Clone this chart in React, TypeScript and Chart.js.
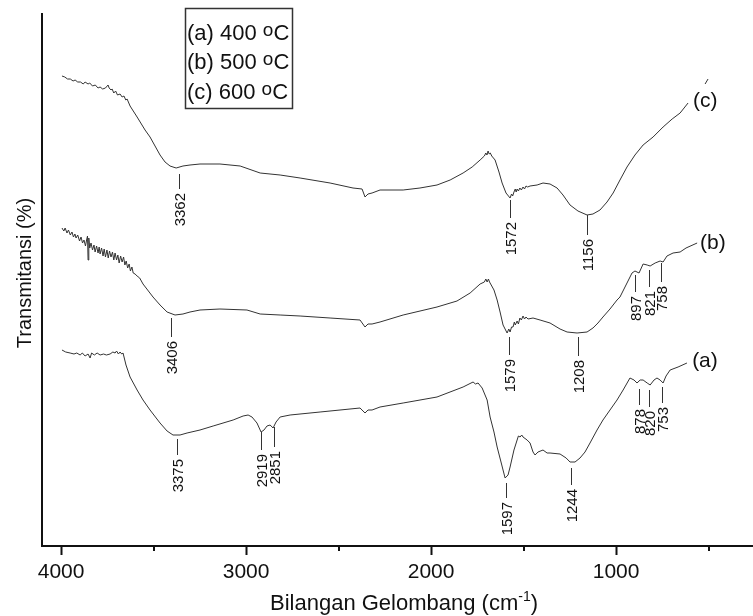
import React, { useEffect, useRef } from 'react';
import { Chart, registerables } from 'chart.js';
Chart.register(...registerables);

const FONT = 'Arial, "Liberation Sans", Helvetica, sans-serif';

// wavenumber (cm-1), transmittance (arbitrary units)
const spectrumC: [number, number][] = [
  [3995, 470], [3980, 469], [3965, 467], [3950, 467], [3935, 465], [3924, 466], [3910, 464], [3895, 464],
  [3880, 462], [3870, 464], [3854, 462], [3845, 463], [3830, 460], [3815, 461], [3800, 458], [3789, 459],
  [3775, 457], [3760, 458], [3746, 461], [3740, 458], [3730, 456], [3724, 457], [3715, 453], [3705, 455],
  [3695, 451], [3681, 452], [3670, 449], [3660, 450], [3650, 446], [3643, 447], [3627, 440], [3589, 429],
  [3546, 416], [3519, 409], [3492, 400], [3465, 391], [3438, 384], [3411, 380], [3378, 378], [3341, 380],
  [3303, 381], [3249, 382], [3141, 382], [3032, 380], [2924, 373], [2816, 371], [2708, 368], [2546, 363],
  [2422, 358], [2373, 357], [2357, 349], [2341, 352], [2319, 353], [2276, 356], [2151, 356], [2060, 358],
  [1968, 361], [1897, 366], [1827, 373], [1778, 379], [1735, 386], [1712, 390], [1704, 393], [1698, 391],
  [1692, 395], [1686, 392], [1680, 393], [1672, 390], [1654, 386], [1633, 374], [1616, 363], [1595, 353],
  [1573, 348], [1565, 352], [1559, 350], [1552, 354], [1545, 357], [1540, 354], [1535, 357], [1528, 355],
  [1520, 358], [1512, 356], [1503, 359], [1495, 357], [1487, 360], [1478, 359], [1465, 360], [1427, 361],
  [1395, 363], [1357, 362], [1319, 358], [1287, 351], [1249, 341], [1206, 335], [1157, 331], [1125, 332],
  [1087, 336], [1049, 344], [1016, 353], [979, 366], [941, 379], [898, 391], [854, 401], [800, 409],
  [746, 419], [697, 427], [654, 433], [611, 443],
];
const spectrumCTail: [number, number][] = [[519, 462], [503, 467]];

const spectrumB: [number, number][] = [
  [3995, 318], [3985, 315], [3978, 318], [3968, 313], [3960, 316], [3950, 311], [3941, 314], [3933, 309],
  [3925, 312], [3919, 308], [3910, 311], [3900, 305], [3892, 309], [3884, 303], [3876, 306], [3868, 300],
  [3862, 306], [3857, 310], [3854, 286], [3850, 308], [3845, 298], [3838, 303], [3830, 296], [3822, 301],
  [3816, 294], [3808, 300], [3800, 293], [3794, 299], [3789, 292], [3781, 298], [3773, 290], [3767, 297],
  [3760, 289], [3752, 296], [3745, 288], [3738, 295], [3730, 289], [3722, 294], [3715, 286], [3708, 293],
  [3700, 286], [3693, 291], [3686, 283], [3678, 290], [3670, 284], [3662, 289], [3655, 281], [3648, 285],
  [3640, 278], [3632, 282], [3625, 275], [3617, 279], [3610, 273], [3600, 272], [3589, 270], [3575, 268],
  [3557, 262], [3503, 249], [3465, 241], [3427, 234], [3384, 231], [3341, 232], [3303, 234], [3249, 236],
  [3141, 237], [2995, 236], [2924, 232], [2816, 231], [2708, 230], [2546, 228], [2384, 226], [2357, 219],
  [2341, 222], [2319, 222], [2276, 224], [2151, 231], [1968, 239], [1860, 245], [1789, 253], [1735, 262],
  [1712, 264], [1704, 267], [1697, 264], [1690, 267], [1684, 264], [1678, 262], [1660, 256], [1643, 246],
  [1627, 234], [1611, 221], [1589, 213], [1580, 217], [1573, 214], [1565, 219], [1557, 219], [1550, 224],
  [1545, 221], [1535, 225], [1528, 222], [1520, 228], [1512, 226], [1503, 230], [1495, 227], [1487, 229],
  [1476, 227], [1449, 228], [1411, 226], [1357, 223], [1303, 217], [1265, 214], [1211, 213], [1157, 214],
  [1125, 218], [1098, 223], [1071, 229], [1033, 237], [995, 246], [979, 249], [941, 263], [914, 273],
  [898, 275], [876, 273], [854, 282], [832, 281], [816, 280], [789, 283], [762, 285], [746, 284],
  [725, 290], [692, 293], [654, 294], [622, 298], [562, 303],
];

const spectrumA: [number, number][] = [
  [3995, 196], [3975, 194], [3951, 193], [3930, 192], [3915, 193], [3897, 191], [3885, 193], [3870, 190],
  [3854, 192], [3843, 188], [3835, 193], [3820, 191], [3805, 193], [3789, 191], [3770, 192], [3755, 191],
  [3735, 192], [3720, 194], [3708, 193], [3700, 195], [3690, 192], [3681, 194], [3672, 192], [3665, 193],
  [3649, 181], [3627, 169], [3589, 156], [3557, 146], [3519, 136], [3465, 123], [3427, 115], [3395, 111],
  [3357, 111], [3319, 113], [3249, 116], [3178, 120], [3070, 126], [3016, 130], [2989, 131], [2968, 129],
  [2941, 123], [2919, 114], [2903, 116], [2887, 120], [2870, 121], [2854, 118], [2838, 124], [2816, 129],
  [2762, 131], [2600, 134], [2384, 138], [2357, 133], [2341, 136], [2319, 136], [2276, 139], [2151, 143],
  [1968, 149], [1827, 159], [1773, 164], [1760, 162], [1746, 163], [1724, 158], [1697, 146], [1681, 129],
  [1660, 114], [1643, 99], [1622, 84], [1600, 68], [1584, 71], [1573, 79], [1552, 96], [1535, 106],
  [1528, 110], [1519, 109], [1510, 111], [1503, 109], [1481, 106], [1465, 103], [1449, 94], [1438, 91],
  [1422, 94], [1395, 96], [1373, 93], [1357, 93], [1303, 92], [1270, 88], [1249, 84], [1222, 84],
  [1195, 88], [1168, 94], [1141, 103], [1103, 116], [1071, 126], [1033, 136], [995, 146], [962, 156],
  [925, 168], [903, 166], [887, 163], [870, 166], [854, 166], [832, 163], [816, 161], [795, 166],
  [779, 168], [762, 166], [746, 163], [730, 170], [708, 176], [665, 179], [617, 183],
];

// peak annotations: label (= wavenumber), tick-line top & bottom (transmittance units)
const peakLabels = [3362, 1572, 1156, 3406, 1579, 1208, 897, 821, 758, 3375, 2919, 2851, 1597, 1244, 878, 820, 753];
const peakTop = [372, 346, 331, 228, 209, 209, 271, 276, 283, 107, 114, 119, 63, 78, 157, 156, 159];
const peakBottom = [357, 328, 311, 209, 191, 190, 254, 259, 264, 91, 96, 99, 48, 61, 141, 139, 143];

// curve labels
const curveNames = ['(a)', '(b)', '(c)'];
const curveNameWn = [589, 546, 584];
const curveNameT = [185, 303, 445];

const legendTemps = ['(a) 400 ', '(b) 500 ', '(c) 600 '];

const tickValues = [500, 1000, 1500, 2000, 2500, 3000, 3500, 4000];
const labelledTicks = [1000, 2000, 3000, 4000];

const xMin = 260;
const xMax = 4103;
const yMin = 0;
const yMax = 532;

const toXY = (arr: [number, number][]) => arr.map(([x, y]) => ({ x, y }));

const overlay = {
  id: 'overlay',
  afterDraw(chart: any) {
    const { ctx } = chart;
    const x = chart.scales.x;
    const y = chart.scales.y;
    ctx.save();
    // minor ticks
    ctx.strokeStyle = '#111';
    ctx.lineWidth = 2;
    tickValues.forEach((v) => {
      if (labelledTicks.includes(v)) return;
      const px = Math.round(x.getPixelForValue(v));
      ctx.beginPath();
      ctx.moveTo(px, y.bottom);
      ctx.lineTo(px, y.bottom + 5);
      ctx.stroke();
    });
    // peak annotations
    ctx.strokeStyle = '#333';
    ctx.lineWidth = 1;
    ctx.fillStyle = '#111';
    ctx.font = `15px ${FONT}`;
    peakLabels.forEach((wn, i) => {
      const px = Math.round(x.getPixelForValue(wn)) + 0.5;
      const y1 = y.getPixelForValue(peakTop[i]);
      const y2 = y.getPixelForValue(peakBottom[i]);
      ctx.beginPath();
      ctx.moveTo(px, y1);
      ctx.lineTo(px, y2);
      ctx.stroke();
      ctx.save();
      ctx.translate(px, y2 + 4);
      ctx.rotate(-Math.PI / 2);
      ctx.textAlign = 'right';
      ctx.textBaseline = 'middle';
      ctx.fillText(String(wn), 0, 1);
      ctx.restore();
    });
    // curve names
    ctx.font = `21px ${FONT}`;
    ctx.textAlign = 'left';
    ctx.textBaseline = 'middle';
    curveNames.forEach((n, i) => {
      ctx.fillText(n, x.getPixelForValue(curveNameWn[i]), y.getPixelForValue(curveNameT[i]));
    });
    // legend box
    ctx.strokeStyle = '#333';
    ctx.lineWidth = 1.5;
    ctx.strokeRect(185.5, 8.5, 107, 100);
    ctx.textBaseline = 'alphabetic';
    legendTemps.forEach((t, i) => {
      const base = 39.5 + i * 29.5;
      let cx = 187;
      ctx.font = `22px ${FONT}`;
      ctx.fillText(t, cx, base);
      cx += ctx.measureText(t).width;
      ctx.font = `19px ${FONT}`;
      ctx.fillText('o', cx, base - 4);
      cx += ctx.measureText('o').width;
      ctx.font = `22px ${FONT}`;
      ctx.fillText('C', cx, base);
    });
    // y title
    ctx.save();
    ctx.translate(25, 273);
    ctx.rotate(-Math.PI / 2);
    ctx.textAlign = 'center';
    ctx.textBaseline = 'middle';
    ctx.font = `20px ${FONT}`;
    ctx.fillText('Transmitansi (%)', 0, 0);
    ctx.restore();
    // x title with superscript
    const main = 'Bilangan Gelombang (cm';
    ctx.font = `22px ${FONT}`;
    const w1 = ctx.measureText(main).width;
    ctx.font = `14px ${FONT}`;
    const w2 = ctx.measureText('-1').width;
    ctx.font = `22px ${FONT}`;
    const w3 = ctx.measureText(')').width;
    let sx = 404 - (w1 + w2 + w3) / 2;
    const sb = 610;
    ctx.textAlign = 'left';
    ctx.textBaseline = 'alphabetic';
    ctx.fillText(main, sx, sb);
    sx += w1;
    ctx.font = `14px ${FONT}`;
    ctx.fillText('-1', sx, sb - 9);
    sx += w2;
    ctx.font = `22px ${FONT}`;
    ctx.fillText(')', sx, sb);
    ctx.restore();
  },
};

export default function App() {
  const ref = useRef<HTMLCanvasElement | null>(null);
  useEffect(() => {
    document.body.style.margin = '0';
    if (!ref.current) return;
    const lineDs = (data: [number, number][]) => ({
      data: toXY(data),
      showLine: true,
      borderColor: '#333333',
      borderWidth: 1,
      pointRadius: 0,
      tension: 0,
    });
    const chart = new Chart(ref.current, {
      type: 'scatter',
      data: {
        datasets: [lineDs(spectrumA), lineDs(spectrumB), lineDs(spectrumC), lineDs(spectrumCTail)],
      },
      options: {
        animation: false,
        responsive: false,
        devicePixelRatio: 1,
        layout: { padding: { top: 14, left: 0, right: 0, bottom: 0 } },
        plugins: { legend: { display: false }, tooltip: { enabled: false } },
        scales: {
          x: {
            type: 'linear',
            reverse: true,
            min: xMin,
            max: xMax,
            afterBuildTicks: (s: any) => {
              s.ticks = tickValues.map((v) => ({ value: v }));
            },
            afterFit: (s: any) => {
              s.height = 70;
            },
            ticks: {
              autoSkip: false,
              maxRotation: 0,
              padding: 5,
              color: '#111',
              font: { size: 21, family: FONT },
              callback: (v: any) => (labelledTicks.includes(Number(v)) ? String(v) : ''),
            },
            grid: {
              display: true,
              drawOnChartArea: false,
              drawTicks: true,
              tickLength: 9,
              tickWidth: 2,
              tickColor: (c: any) =>
                c.tick && labelledTicks.includes(c.tick.value) ? '#111' : 'rgba(0,0,0,0)',
            },
            border: { display: true, color: '#111', width: 2 },
          },
          y: {
            type: 'linear',
            min: yMin,
            max: yMax,
            ticks: { display: false },
            grid: { display: false, drawTicks: false },
            border: { display: true, color: '#111', width: 2 },
            afterFit: (s: any) => {
              s.width = 42;
            },
          },
        },
      },
      plugins: [overlay],
    });
    return () => chart.destroy();
  }, []);
  return (
    <div style={{ position: 'absolute', left: 0, top: 0, width: 753, height: 616, background: '#fff' }}>
      <canvas ref={ref} width={753} height={616} />
    </div>
  );
}
